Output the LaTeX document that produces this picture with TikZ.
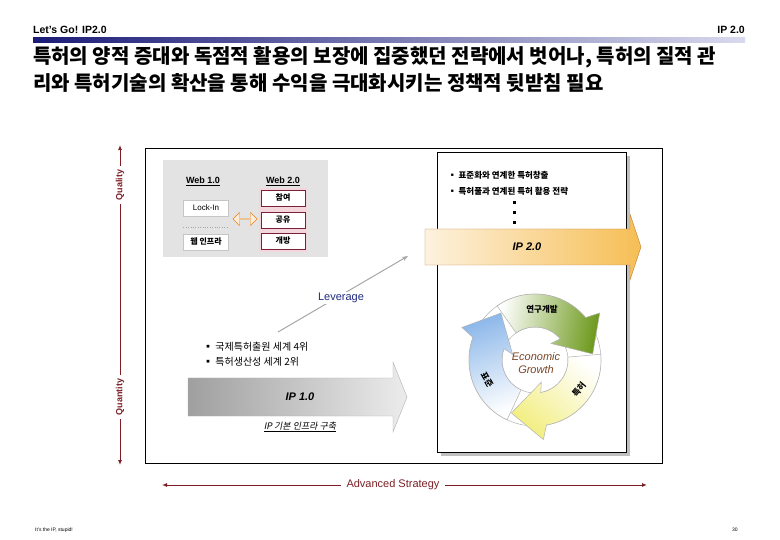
\documentclass[tikz,border=0pt]{standalone}
\usepackage{fontspec}
\setmainfont{Liberation Sans}
\newfontfamily\kr{Noto Sans CJK KR}
\newfontfamily\krit[FakeSlant=0.2]{Noto Sans CJK KR}
\usepackage{xcolor}
\usepackage{tikz}
\usetikzlibrary{arrows.meta,shapes.arrows}
\definecolor{axisred}{HTML}{7B1F24}
\definecolor{navybar}{HTML}{1B1B78}
\definecolor{lilac}{HTML}{D9D9EE}
\definecolor{levblue}{HTML}{1F2A80}
\definecolor{webred}{HTML}{7A1F3A}
\definecolor{webpink}{HTML}{F3D5DC}
\definecolor{cream}{HTML}{FDF2DE}
\definecolor{ambre}{HTML}{F6BE55}
\definecolor{growth}{HTML}{7A4526}
\definecolor{leafgreen}{HTML}{6E9A1E}
\definecolor{sunyellow}{HTML}{F2EE80}
\definecolor{skyblue}{HTML}{8DB8EA}

\begin{document}
\begin{tikzpicture}[
  x=1pt,y=-1pt,
  lbl/.style={inner sep=0pt},
  webbox/.style={draw=webred,fill=white,minimum width=44pt,minimum height=16pt,inner sep=0pt,font=\kr\bfseries\fontsize{8}{9}\selectfont},
  oldbox/.style={draw=gray!45,fill=white,minimum width=45pt,minimum height=16pt,inner sep=0pt,font=\fontsize{8}{9}\selectfont},
  axislabel/.style={inner sep=0pt,outer sep=4pt,rotate=90,text=axisred,font=\bfseries\fontsize{9}{10}\selectfont},
  axisline/.style={axisred,line width=1pt},
  axisarrow/.style={axisline,-{Latex[length=5pt,width=4pt]}},
  ring/.style={draw=gray!60,line width=0.5pt},
  ringtext/.style={inner sep=0pt,font=\kr\bfseries\fontsize{8.5}{9}\selectfont}
]
\useasboundingbox (0,0) rectangle (780,540);

\node[lbl,anchor=west,font=\bfseries\fontsize{10.5}{12}\selectfont] (series) at (33,30) {Let's Go! IP2.0};
\node[lbl,anchor=east,font=\bfseries\fontsize{10.5}{12}\selectfont] (chapter) at (745,30) {IP 2.0};
\shade[left color=navybar,right color=lilac] (33,38) rectangle (745,43);
\node[lbl,anchor=west,font=\kr\bfseries\fontsize{20}{24}\selectfont] (title1) at (33,57) {특허의 양적 증대와 독점적 활용의 보장에 집중했던 전략에서 벗어나, 특허의 질적 관};
\node[lbl,anchor=west,font=\kr\bfseries\fontsize{20}{24}\selectfont] (title2) at (33,83) {리와 특허기술의 확산을 통해 수익을 극대화시키는 정책적 뒷받침 필요};

\draw[line width=0.8pt] (145,148) rectangle (662,463);

\node[axislabel] (quality) at (120,185) {Quality};
\node[axislabel] (quantity) at (120,397) {Quantity};
\coordinate (axtop) at (120,145);
\coordinate (axbot) at (120,465);
\draw[axisarrow] (quality.east) -- (axtop);
\draw[axisline] (quality.west) -- (quantity.east);
\draw[axisarrow] (quantity.west) -- (axbot);

\node[inner sep=0pt,outer sep=6pt,text=axisred,font=\fontsize{11}{12}\selectfont] (strategy) at (393,485) {Advanced Strategy};
\coordinate (stratL) at (162,485);
\coordinate (stratR) at (647,485);
\draw[axisarrow] (strategy.west) -- (stratL);
\draw[axisarrow] (strategy.east) -- (stratR);

\fill[gray!22] (163,160) rectangle (328,257);
\fill[webpink] (259,188) rectangle (307,252);
\node[font=\bfseries\fontsize{9}{10}\selectfont] (web1) at (203,181) {\underline{Web 1.0}};
\node[font=\bfseries\fontsize{9}{10}\selectfont] (web2) at (283,181) {\underline{Web 2.0}};
\node[oldbox] (lockin) at (206,208) {Lock-In};
\node[oldbox,font=\kr\bfseries\fontsize{8}{9}\selectfont] (webinfra) at (206,242) {웹 인프라};
\draw[gray!70,dotted] ([yshift=-11pt]lockin.south west) -- ([yshift=-11pt]lockin.south east);
\foreach \n/\t/\y in {join/참여/198,share/공유/220,open/개방/241}
  \node[webbox] (\n) at (283,\y) {\t};
\node[double arrow,draw=orange!70!brown,fill=orange!15,minimum height=24pt,minimum width=13pt,double arrow head extend=2.5pt,inner sep=0pt] (swap) at (245,219) {};

\coordinate (levfrom) at (278,332);
\coordinate (levto) at (408,256);
\draw[gray!70,line width=1pt,-{Stealth[length=6pt]}] (levfrom) -- (levto);
\node[fill=white,inner sep=1pt,text=levblue,font=\fontsize{11}{12}\selectfont] (lever) at (341,298) {Leverage};

\node[anchor=west,align=left,inner sep=0pt,font=\kr\fontsize{10}{15}\selectfont] (facts) at (203,354) {▪ 국제특허출원 세계 4위\\▪ 특허생산성 세계 2위};
\draw[gray!60,left color=gray!75,right color=gray!15] (188,378) -- (393,378) -- (393,362) -- (407,397) -- (393,432) -- (393,416) -- (188,416) -- cycle;
\node[font=\bfseries\itshape\fontsize{11}{12}\selectfont] (ip1) at (300,397) {IP 1.0};
\node[font=\krit\fontsize{9}{10}\selectfont] (infra) at (300,427) {\underline{IP 기본 인프라 구축}};

\fill[gray!50] (441,156) rectangle (630,456);
\draw[fill=white,line width=0.6pt] (437,152) rectangle (626,452);
\node[anchor=west,align=left,inner sep=0pt,font=\kr\bfseries\fontsize{8.5}{16}\selectfont] (plans) at (448,183) {▪ 표준화와 연계한 특허창출\\▪ 특허풀과 연계된 특허 활용 전략};
\foreach \y in {203,213,223}
  \fill (512.5,\y-1.5) rectangle ++(3,3);
\draw[draw=orange!50!gray,left color=cream,right color=ambre] (425,229) -- (630,229) -- (630,214) -- (641,247) -- (630,280) -- (630,265) -- (425,265) -- cycle;
\node[font=\bfseries\itshape\fontsize{11}{12}\selectfont] (ip2) at (527,247) {IP 2.0};

\begin{scope}[shift={(535,360)}]
  \draw[ring,fill=white,even odd rule] (0,0) circle[radius=66pt] (0,0) circle[radius=33pt];
  \foreach \rot/\col/\ang in {0/leafgreen/-100,-120/sunyellow/140,120/skyblue/20}
    \draw[ring,rotate=\rot,top color=\col,bottom color=white,shading angle=\ang]
      (125:66pt) arc[start angle=125,end angle=40,radius=66pt] -- (36:80pt) -- (6:58pt)
      -- (46:23pt) -- (40:33pt) arc[start angle=40,end angle=125,radius=33pt] -- cycle;
\end{scope}
\node[ringtext] (rnd) at (542,309) {연구개발};
\node[ringtext,rotate=50] (patent) at (579,389) {특허};
\node[ringtext,rotate=-60] (standard) at (487,380) {표준};
\node[align=center,inner sep=0pt,text=growth,font=\itshape\fontsize{11}{13}\selectfont] (growth) at (536,363) {Economic\\Growth};

\node[lbl,anchor=west,font=\fontsize{5}{6}\selectfont] (motto) at (35,530) {It's the IP, stupid!};
\node[lbl,anchor=west,font=\fontsize{5}{6}\selectfont] (page) at (732,530) {30};
\end{tikzpicture}
\end{document}
